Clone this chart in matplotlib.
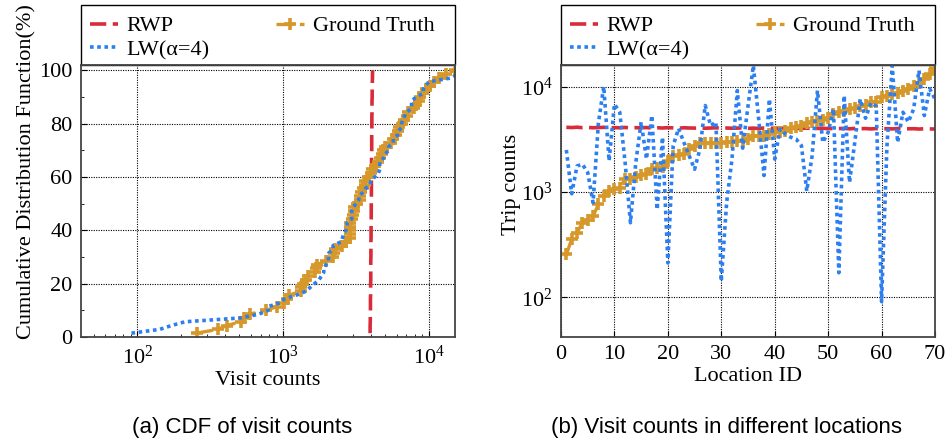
import numpy as np
import matplotlib
matplotlib.use("Agg")
import matplotlib.pyplot as plt
from matplotlib.patches import Rectangle
from matplotlib.ticker import MultipleLocator, LogLocator, NullLocator, NullFormatter

plt.rcParams['font.family'] = ['Liberation Serif', 'DejaVu Serif']
plt.rcParams['mathtext.fontset'] = 'custom'
plt.rcParams['mathtext.rm'] = 'Liberation Serif'
plt.rcParams['mathtext.it'] = 'Liberation Serif:italic'
plt.rcParams['font.size'] = 16

# trip counts per location (location ID 1..70)
location_id = np.arange(1, 71)

ground_truth = [255, 355, 410, 510, 540, 590, 760, 910, 1020, 1060,
                1100, 1320, 1320, 1370, 1440, 1480, 1650, 1670, 1710, 1970,
                2200, 2230, 2280, 2550, 2700, 2880, 2880, 2880, 2880, 2880,
                2950, 3000, 3070, 3070, 3200, 3370, 3370, 3400, 3540, 3670,
                3670, 3810, 4010, 4100, 4250, 4500, 4640, 4750, 4850, 5000,
                5500, 5700, 5900, 6130, 6220, 6500, 6700, 7100, 7200, 7900,
                8200, 8500, 8700, 9150, 9500, 10200, 10800, 11800, 13200, 15000]

lw_alpha4 = [2500, 960, 1760, 1830, 1530, 790, 4500, 10000, 1970, 6800,
             5700, 1900, 510, 1900, 4600, 2050, 5300, 680, 3300, 212,
             2750, 4000, 2950, 2200, 1640, 2550, 6600, 4250, 4600, 142,
             790, 2050, 9150, 2600, 6500, 15800, 4900, 1430, 7600, 2050,
             3950, 3550, 3300, 3170, 2750, 1020, 2200, 9150, 2950, 3680,
             6130, 171, 8200, 1230, 3000, 7600, 5000, 7000, 6500, 91,
             2700, 15800, 2950, 5700, 4600, 6100, 14200, 5300, 9500, 7600]

rwp = [4100, 4080, 4110, 4070, 4090, 4060, 4080, 4100, 4050, 4070,
       4060, 4090, 4040, 4070, 4050, 4080, 4030, 4060, 4040, 4070,
       4050, 4020, 4060, 4040, 4030, 4050, 4020, 4040, 4060, 4010,
       4040, 4020, 4030, 4050, 4010, 4030, 4000, 4040, 4020, 4010,
       4030, 4000, 4020, 3990, 4010, 4030, 3990, 4000, 4020, 3980,
       4000, 3990, 4010, 3970, 4000, 3980, 3990, 3960, 3990, 3970,
       3980, 3960, 3990, 3950, 3970, 3980, 3950, 3970, 3960, 3950]

labels = ['RWP', 'LW(α=4)', 'Ground Truth']
captions = ['(a) CDF of visit counts', '(b) Visit counts in different locations']

c_rwp = '#D92B3A'
c_lw = '#2B7FF0'
c_gt = '#D6982A'

sty_rwp = dict(color=c_rwp, lw=2.6, linestyle=(0, (4.5, 1.8)))
sty_lw = dict(color=c_lw, lw=2.6, linestyle=(0, (1, 1)))
sty_gt = dict(color=c_gt, lw=2.4, linestyle=(0, (5, 2)), marker='+', ms=8, mew=2.6)

fig = plt.figure(figsize=(9.46, 4.42), dpi=100)
ax1 = fig.add_axes([81 / 946, 105 / 442, 374 / 946, 272 / 442])
ax2 = fig.add_axes([561 / 946, 105 / 442, 374 / 946, 272 / 442])


def cdf(vals):
    v = np.sort(np.asarray(vals, dtype=float))
    p = np.arange(1, len(v) + 1) / len(v) * 100
    return v, p


# (a) CDF
x, p = cdf(rwp)
h_rwp, = ax1.plot(x, p, **sty_rwp)
x, p = cdf(ground_truth)
h_gt, = ax1.plot(x, p, **sty_gt)
x, p = cdf(lw_alpha4)
h_lw, = ax1.plot(x, p, **sty_lw)
ax1.set_xscale('log')
ax1.set_xlim(41, 15100)
ax1.set_ylim(0, 102)
ax1.yaxis.set_major_locator(MultipleLocator(20))
ax1.yaxis.set_minor_locator(MultipleLocator(10))
ax1.xaxis.set_major_locator(LogLocator(base=10, numticks=10))
ax1.xaxis.set_minor_locator(LogLocator(base=10, subs=np.arange(2, 10), numticks=20))
ax1.xaxis.set_minor_formatter(NullFormatter())
ax1.set_xlabel('Visit counts', labelpad=2)
ax1.set_ylabel('Cumulative Distribution Function(%)')
ax1.yaxis.set_label_coords(-0.118, 0.61)

# (b) trip counts per location
ax2.plot(location_id, rwp, **sty_rwp)
ax2.plot(location_id, ground_truth, **sty_gt)
ax2.plot(location_id, lw_alpha4, **sty_lw)
ax2.set_yscale('log')
ax2.set_xlim(0, 70)
ax2.set_ylim(42, 16000)
ax2.xaxis.set_major_locator(MultipleLocator(10))
ax2.yaxis.set_minor_locator(NullLocator())
ax2.set_xlabel('Location ID', labelpad=2)
ax2.set_ylabel('Trip counts')
ax2.yaxis.set_label_coords(-0.108, 0.56)

box_h = 60 / 272
for ax in (ax1, ax2):
    ax.grid(True, which='major', color='black', linestyle=(0, (1, 1.2)), lw=0.8)
    ax.tick_params(which='both', direction='in', pad=6)
    ax.tick_params(which='major', length=4)
    ax.tick_params(which='minor', length=2.5)
    for s in ax.spines.values():
        s.set_color('#444444')
        s.set_linewidth(1.3)
    # legend frame sits on top of the axes, full width
    ax.add_patch(Rectangle((0, 1), 1, box_h, transform=ax.transAxes, fill=False,
                           edgecolor='black', lw=1.0, clip_on=False))
    ax.legend([h_rwp, h_lw, h_gt], labels, ncol=2, loc='center left',
              bbox_to_anchor=(9 / 374, 1 + box_h / 2 - 3 / 272),
              borderaxespad=0, frameon=False,
              handlelength=1.25, handletextpad=0.4, labelspacing=0.15,
              borderpad=0.0, columnspacing=3.0, fontsize=16)

fig.text(242 / 946, 0.033, captions[0], ha='center', va='center',
         family=['Liberation Sans', 'DejaVu Sans'], fontsize=16)
fig.text(726 / 946, 0.033, captions[1], ha='center', va='center',
         family=['Liberation Sans', 'DejaVu Sans'], fontsize=16)

fig.savefig('out.png', dpi=100)
